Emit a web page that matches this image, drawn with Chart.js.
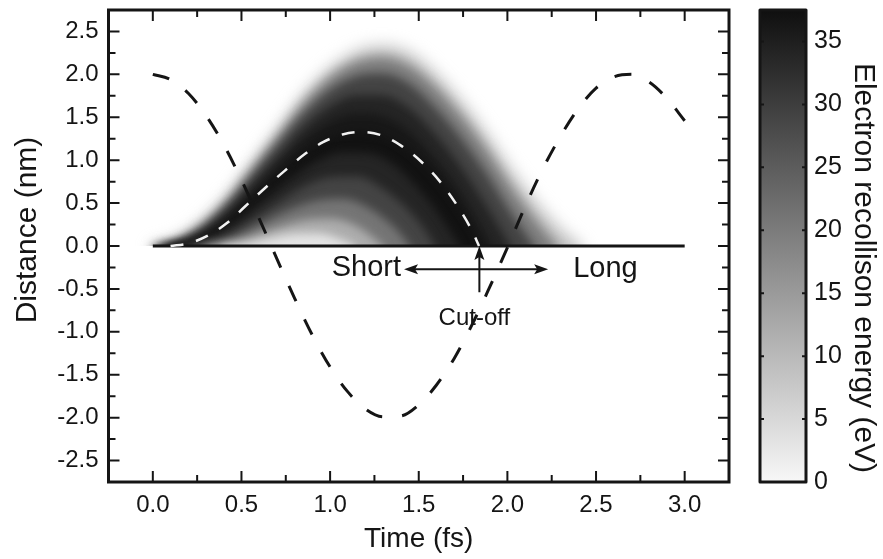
<!DOCTYPE html>
<html>
<head>
<meta charset="utf-8">
<title>Electron trajectories</title>
<script src="https://cdn.jsdelivr.net/npm/chart.js@4.4.1/dist/chart.umd.min.js"></script>
<style>
    html, body { margin: 0; padding: 0; background: #fff; }
    #wrap { width: 883px; height: 559px; position: relative; }
</style>
</head>
<body>
<div id="wrap"><canvas id="trajChart"></canvas></div>
<script>
// 축 눈금
const timeTicks = [0, 0.5, 1, 1.5, 2, 2.5, 3];
const distanceTicks = [-2.5, -2, -1.5, -1, -0.5, 0, 0.5, 1, 1.5, 2, 2.5];
const energyTicks = [0, 5, 10, 15, 20, 25, 30, 35];

// 레이저 전기장 (검은 점선)
const fieldTime = [0, 0.1, 0.2, 0.3, 0.4, 0.5, 0.6, 0.7, 0.8, 0.9, 1.0, 1.1, 1.2, 1.3, 1.4, 1.5,
    1.6, 1.7, 1.8, 1.9, 2.0, 2.1, 2.2, 2.3, 2.4, 2.5, 2.6, 2.7, 2.8, 2.9, 3.0];
const fieldValue = [2.00, 1.94, 1.78, 1.52, 1.18, 0.77, 0.32, -0.15, -0.61, -1.04, -1.41, -1.70, -1.90, -1.99, -1.98, -1.85,
    -1.62, -1.31, -0.92, -0.48, -0.02, 0.46, 0.90, 1.28, 1.60, 1.84, 1.97, 2.00, 1.91, 1.72, 1.46];

// 컷오프 궤적 (흰 점선)
const cutoffPath = [[0.10, 0], [0.20, 0.03], [0.31, 0.12], [0.42, 0.27], [0.52, 0.46], [0.63, 0.67], [0.74, 0.87],
    [0.85, 1.06], [0.96, 1.21], [1.07, 1.30], [1.17, 1.33], [1.29, 1.29], [1.40, 1.17], [1.51, 0.99], [1.62, 0.75],
    [1.73, 0.43], [1.80, 0.18], [1.84, 0]];

// 긴 궤적 (바깥쪽부터)
const longPath1 = [[0.00, 0], [0.12, 0.07], [0.27, 0.27], [0.42, 0.58], [0.56, 0.96], [0.71, 1.37], [0.85, 1.76],
    [1.00, 2.07], [1.15, 2.27], [1.29, 2.33], [1.44, 2.26], [1.58, 2.04], [1.73, 1.71], [1.88, 1.31], [2.02, 0.89],
    [2.17, 0.49], [2.32, 0.16], [2.42, 0]];
const longPath2 = [[0.00, 0], [0.12, 0.05], [0.27, 0.24], [0.42, 0.54], [0.56, 0.91], [0.71, 1.30], [0.85, 1.67],
    [1.00, 1.97], [1.15, 2.15], [1.29, 2.20], [1.44, 2.11], [1.58, 1.88], [1.73, 1.54], [1.88, 1.13], [2.02, 0.69],
    [2.17, 0.27], [2.28, 0]];
const longPath3 = [[0.02, 0], [0.12, 0.04], [0.27, 0.20], [0.42, 0.48], [0.56, 0.82], [0.71, 1.20], [0.85, 1.54],
    [1.00, 1.82], [1.15, 1.98], [1.29, 2.01], [1.44, 1.90], [1.58, 1.64], [1.73, 1.28], [1.88, 0.85], [2.02, 0.39],
    [2.15, 0]];
const longPath4 = [[0.05, 0], [0.12, 0.02], [0.27, 0.15], [0.42, 0.40], [0.56, 0.72], [0.71, 1.06], [0.85, 1.38],
    [1.00, 1.63], [1.15, 1.76], [1.29, 1.76], [1.44, 1.62], [1.58, 1.34], [1.73, 0.95], [1.88, 0.48], [2.02, 0]];
const longPath5 = [[0.08, 0], [0.20, 0.04], [0.31, 0.16], [0.42, 0.33], [0.56, 0.62], [0.71, 0.94], [0.85, 1.23],
    [1.00, 1.45], [1.15, 1.55], [1.29, 1.52], [1.44, 1.35], [1.58, 1.04], [1.73, 0.62], [1.84, 0.25], [1.91, 0]];

// 짧은 궤적 (바깥쪽부터)
const shortPath1 = [[0.14, 0], [0.23, 0.03], [0.34, 0.12], [0.49, 0.31], [0.63, 0.55], [0.78, 0.79], [0.93, 0.99],
    [1.07, 1.09], [1.22, 1.08], [1.37, 0.93], [1.51, 0.64], [1.62, 0.35], [1.73, 0]];
const shortPath2 = [[0.19, 0], [0.31, 0.04], [0.42, 0.13], [0.56, 0.31], [0.71, 0.51], [0.85, 0.69], [1.00, 0.80],
    [1.15, 0.81], [1.29, 0.68], [1.44, 0.42], [1.53, 0.20], [1.59, 0]];
const shortPath3 = [[0.25, 0], [0.38, 0.04], [0.49, 0.13], [0.63, 0.28], [0.78, 0.43], [0.93, 0.53], [1.07, 0.55],
    [1.22, 0.44], [1.37, 0.20], [1.45, 0]];
const shortPath4 = [[0.31, 0], [0.45, 0.04], [0.56, 0.11], [0.71, 0.22], [0.85, 0.30], [1.00, 0.32], [1.15, 0.23], [1.30, 0]];
const shortPath5 = [[0.39, 0], [0.52, 0.03], [0.63, 0.08], [0.78, 0.14], [0.93, 0.15], [1.07, 0.07], [1.14, 0]];

// 궤적별 재충돌 에너지 (eV)
const bandPaths = [longPath1, longPath2, longPath3, longPath4, longPath5, cutoffPath,
    shortPath1, shortPath2, shortPath3, shortPath4, shortPath5];
const bandEnergy = [9, 20, 29, 34, 36, 37, 34, 29, 21, 12, 3];

// 주석 위치
const cutoffTime = 1.842;
const arrowLeft = 1.417;
const arrowRight = 2.23;
const arrowLevel = -0.27;
const stemBottom = -0.54;

const ENERGY_MAX = 37.5;
const FONT = '"Liberation Sans", Arial, Helvetica, sans-serif';
const INK = '#151515';

function toPoints(path) {
    return path.map(p => ({ x: p[0], y: p[1] }));
}

// 에너지 -> 회색
function energyGray(e) {
    const g = Math.round(247 - (e / ENERGY_MAX) * 232);
    return `rgb(${g},${g},${g})`;
}

// 세로축 라벨 여백 제거 (차트 영역 높이 유지)
function fixVertical(width) {
    return s => {
        s.width = width;
        s.paddingTop = 0;
        s.paddingBottom = 0;
    };
}

// 궤적 음영 (흐림 효과, 바깥 궤적은 더 부드럽게)
const bandShading = {
    id: 'bandShading',
    beforeDatasetsDraw(chart) {
        const { ctx, chartArea: a, scales: { y } } = chart;
        const y0 = y.getPixelForValue(0);
        let n = 0;
        chart.data.datasets.forEach((ds, i) => {
            if (ds.energy === undefined) return;
            const meta = chart.getDatasetMeta(i);
            const line = meta.dataset;
            const pts = meta.data;
            line.updateControlPoints(a, 'x');
            ctx.save();
            ctx.beginPath();
            ctx.rect(a.left, a.top, a.width, y0 - a.top);
            ctx.clip();
            ctx.filter = `blur(${n === 0 ? 8 : n === 1 ? 6 : 5}px)`;
            ctx.beginPath();
            line.path(ctx);
            ctx.lineTo(pts[pts.length - 1].x, y0 + 15);
            ctx.lineTo(pts[0].x, y0 + 15);
            ctx.closePath();
            ctx.fillStyle = energyGray(ds.energy);
            ctx.fill();
            ctx.restore();
            n++;
        });
    }
};

function drawHead(ctx, x, y, angle) {
    ctx.save();
    ctx.translate(x, y);
    ctx.rotate(angle);
    ctx.beginPath();
    ctx.moveTo(0, 0);
    ctx.lineTo(-14, -5);
    ctx.lineTo(-11, 0);
    ctx.lineTo(-14, 5);
    ctx.closePath();
    ctx.fill();
    ctx.restore();
}

// 화살표, 글자, 안쪽 눈금, 테두리
const decorations = {
    id: 'decorations',
    afterDatasetsDraw(chart) {
        const { ctx, chartArea: a, scales: { x, y } } = chart;
        ctx.save();
        ctx.strokeStyle = INK;
        ctx.fillStyle = INK;

        // 화살표
        const yArrow = y.getPixelForValue(arrowLevel);
        const xl = x.getPixelForValue(arrowLeft);
        const xr = x.getPixelForValue(arrowRight);
        const xc = x.getPixelForValue(cutoffTime);
        const y0 = y.getPixelForValue(0);
        ctx.lineWidth = 2;
        ctx.beginPath();
        ctx.moveTo(xl + 8, yArrow);
        ctx.lineTo(xr - 8, yArrow);
        ctx.moveTo(xc, y.getPixelForValue(stemBottom));
        ctx.lineTo(xc, y0 + 8);
        ctx.stroke();
        drawHead(ctx, xl, yArrow, Math.PI);
        drawHead(ctx, xr, yArrow, 0);
        drawHead(ctx, xc, y0, -Math.PI / 2);

        ctx.textBaseline = 'middle';
        ctx.font = '29px ' + FONT;
        ctx.textAlign = 'right';
        ctx.fillText('Short', xl - 3, yArrow - 1);
        ctx.textAlign = 'left';
        ctx.fillText('Long', xr + 25, yArrow);
        ctx.font = '24px ' + FONT;
        ctx.textAlign = 'center';
        ctx.fillText('Cut-off', xc - 5, y.getPixelForValue(-0.84));

        // 안쪽 눈금
        ctx.lineWidth = 2;
        ctx.beginPath();
        for (let i = 0; i <= 12; i++) {
            const px = x.getPixelForValue(i * 0.25);
            const len = i % 2 === 0 ? 11 : 7;
            ctx.moveTo(px, a.bottom);
            ctx.lineTo(px, a.bottom - len);
            ctx.moveTo(px, a.top);
            ctx.lineTo(px, a.top + len);
        }
        for (let i = -10; i <= 10; i++) {
            const py = y.getPixelForValue(i * 0.25);
            const len = i % 2 === 0 ? 11 : 7;
            ctx.moveTo(a.left, py);
            ctx.lineTo(a.left + len, py);
            ctx.moveTo(a.right, py);
            ctx.lineTo(a.right - len, py);
        }
        ctx.stroke();

        ctx.lineWidth = 3;
        ctx.strokeRect(a.left, a.top, a.width, a.height);
        ctx.restore();
    },
    afterDraw(chart) {
        const { ctx, chartArea: a, scales: { y2 } } = chart;
        ctx.save();

        // 컬러바
        const left = a.right + 31;
        const width = 46;
        const top = y2.getPixelForValue(ENERGY_MAX);
        const bottom = y2.getPixelForValue(0);
        const grad = ctx.createLinearGradient(0, top, 0, bottom);
        grad.addColorStop(0, energyGray(ENERGY_MAX));
        grad.addColorStop(1, energyGray(0));
        ctx.fillStyle = grad;
        ctx.fillRect(left, top, width, bottom - top);
        ctx.strokeStyle = INK;
        ctx.lineWidth = 2;
        ctx.beginPath();
        energyTicks.slice(1).forEach(v => {
            const py = y2.getPixelForValue(v);
            ctx.moveTo(left, py);
            ctx.lineTo(left + 4, py);
            ctx.moveTo(left + width, py);
            ctx.lineTo(left + width - 4, py);
        });
        ctx.stroke();
        ctx.lineWidth = 3;
        ctx.lineJoin = 'round';
        ctx.strokeRect(left, top, width, bottom - top);

        // 세로 축 제목
        ctx.fillStyle = INK;
        ctx.font = '30px ' + FONT;
        ctx.textAlign = 'center';
        ctx.textBaseline = 'alphabetic';
        const mid = (a.top + a.bottom) / 2;
        ctx.save();
        ctx.translate(a.left - 73, mid - 16);
        ctx.rotate(-Math.PI / 2);
        ctx.fillText('Distance (nm)', 0, 0);
        ctx.restore();
        ctx.save();
        ctx.translate(855, mid + 22);
        ctx.rotate(Math.PI / 2);
        ctx.fillText('Electron recollison energy (eV)', 0, 0);
        ctx.restore();

        ctx.restore();
    }
};

const datasets = [
    {
        label: 'field',
        data: fieldTime.map((t, i) => ({ x: t, y: fieldValue[i] })),
        borderColor: INK,
        borderWidth: 3,
        borderDash: [17, 20],
        pointRadius: 0,
        cubicInterpolationMode: 'monotone',
        fill: false
    },
    {
        label: 'cutoff',
        data: toPoints(cutoffPath),
        borderColor: '#f2f2f2',
        borderWidth: 2.5,
        borderDash: [13, 13],
        pointRadius: 0,
        cubicInterpolationMode: 'monotone',
        fill: false
    },
    {
        label: 'zero',
        data: [{ x: 0, y: 0 }, { x: 3, y: 0 }],
        borderColor: INK,
        borderWidth: 3,
        pointRadius: 0,
        fill: false
    }
].concat(bandPaths.map((path, i) => ({
    label: 'band' + i,
    data: toPoints(path),
    energy: bandEnergy[i],
    showLine: false,
    borderWidth: 0,
    pointRadius: 0,
    cubicInterpolationMode: 'monotone',
    fill: false
})));

const tickFont = { family: FONT, size: 24 };

new Chart(document.getElementById('trajChart'), {
    type: 'line',
    data: { datasets: datasets },
    options: {
        responsive: true,
        maintainAspectRatio: false,
        animation: false,
        devicePixelRatio: 1,
        events: [],
        layout: { padding: { top: 10, left: 0, right: 0, bottom: 0 } },
        plugins: {
            legend: { display: false },
            tooltip: { enabled: false }
        },
        scales: {
            x: {
                type: 'linear',
                min: -0.25,
                max: 3.25,
                grid: { display: false, drawTicks: false },
                border: { display: false },
                afterBuildTicks: s => { s.ticks = timeTicks.map(v => ({ value: v })); },
                afterFit: s => { s.height = 77; },
                ticks: {
                    font: tickFont,
                    color: INK,
                    padding: 9,
                    autoSkip: false,
                    maxRotation: 0,
                    callback: v => v.toFixed(1)
                },
                title: {
                    display: true,
                    text: 'Time (fs)',
                    color: INK,
                    font: { family: FONT, size: 28 },
                    padding: { top: 0, bottom: 3 }
                }
            },
            y: {
                type: 'linear',
                position: 'left',
                min: -2.75,
                max: 2.75,
                grid: { display: false, drawTicks: false },
                border: { display: false },
                afterBuildTicks: s => { s.ticks = distanceTicks.map(v => ({ value: v })); },
                afterFit: fixVertical(108.5),
                ticks: {
                    font: tickFont,
                    color: INK,
                    padding: 10,
                    autoSkip: false,
                    callback: v => v.toFixed(1)
                }
            },
            y2: {
                type: 'linear',
                position: 'right',
                min: 0,
                max: ENERGY_MAX,
                grid: { display: false, drawTicks: false },
                border: { display: false },
                afterBuildTicks: s => { s.ticks = energyTicks.map(v => ({ value: v })); },
                afterFit: fixVertical(154),
                ticks: {
                    font: { family: FONT, size: 25 },
                    color: INK,
                    padding: 85,
                    autoSkip: false,
                    callback: v => String(v)
                }
            }
        }
    },
    plugins: [bandShading, decorations]
});
</script>
</body>
</html>
